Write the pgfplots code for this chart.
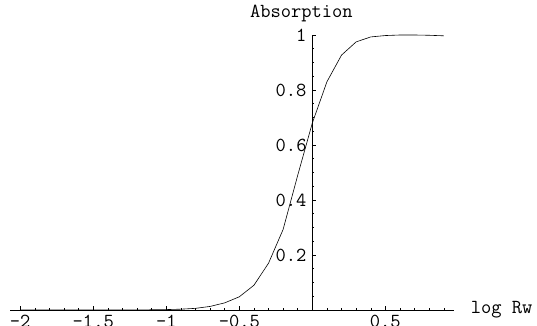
\documentclass[border=0pt]{standalone}
\usepackage{fontspec}
\usepackage{pgfplots}
\pgfplotsset{compat=1.18}

\begin{document}
\ttfamily\fontsize{20}{22}\selectfont
\begin{tikzpicture}
\begin{axis}[
    scale only axis,
    width=444bp, height=275bp,
    xmin=-2.07, xmax=0.97,
    ymin=0, ymax=1,
    axis lines=middle,
    axis line style={-, line width=0.5bp},
    xtick={-2,-1.5,-1,-0.5,0.5},
    xticklabels={-2,-1.5,-1,-0.5,0.5},
    minor xtick={-2,-1.9,-1.8,-1.7,-1.6,-1.5,-1.4,-1.3,-1.2,-1.1,-1,-0.9,-0.8,-0.7,-0.6,-0.5,-0.4,-0.3,-0.2,-0.1,0.1,0.2,0.3,0.4,0.5,0.6,0.7,0.8,0.9},
    ytick={0.2,0.4,0.6,0.8,1},
    yticklabels={0.2,0.4,0.6,0.8,1},
    minor ytick={0.05,0.1,0.15,0.2,0.25,0.3,0.35,0.4,0.45,0.5,0.55,0.6,0.65,0.7,0.75,0.8,0.85,0.9,0.95,1},
    tick align=inside,
    major tick length=4bp, minor tick length=2bp,
    tick style={black, line width=0.5bp},
    xlabel={log Rw}, ylabel={Absorption},
    x label style={at={(axis description cs:1,0)}, anchor=west, xshift=10bp},
    y label style={at={(axis cs:0,1)}, anchor=base, rotate=0, xshift=-11bp, yshift=17bp},
    every tick label/.append style={font=\ttfamily\fontsize{20}{22}\selectfont},
    xticklabel style={anchor=north, yshift=1.5bp},
    yticklabel style={anchor=east, xshift=1bp},
]
    % Absorption vs log Rw
    \addplot[black, line width=0.6bp] coordinates {
        (-2,0) (-1.5,0) (-1.2,0.0003) (-1.1,0.0008) (-1,0.0015) (-0.9,0.003)
        (-0.8,0.006) (-0.7,0.013) (-0.6,0.026) (-0.5,0.048) (-0.4,0.09)
        (-0.3,0.17) (-0.2,0.293) (-0.1,0.49) (0,0.68) (0.1,0.83)
        (0.2,0.927) (0.3,0.975) (0.4,0.993) (0.5,0.998) (0.6,1.0)
        (0.7,1.0) (0.8,0.999) (0.9,0.997)
    };
    \coordinate (O) at (axis cs:-2.07,0);
\end{axis}
\pgfresetboundingbox
\path ([shift={(-10bp,-16bp)}]O) rectangle ([shift={(527bp,310bp)}]O);
\end{tikzpicture}
\end{document}
